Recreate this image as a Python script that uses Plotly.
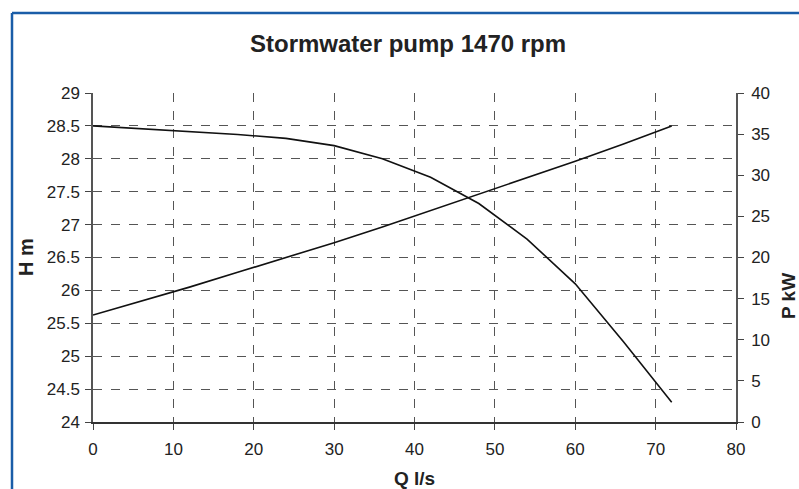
import plotly.graph_objects as go

# Data
q = [0, 6, 12, 18, 24, 30, 36, 42, 48, 54, 60, 66, 72]
head_m = [28.5, 28.46, 28.41, 28.37, 28.31, 28.2, 28.0, 27.72, 27.32, 26.78, 26.1, 25.22, 24.3]
power_kw = [13.0, 14.7, 16.4, 18.2, 20.0, 21.8, 23.7, 25.7, 27.7, 29.7, 31.7, 33.8, 36.0]

title = "Stormwater pump 1470 rpm"
x_title = "Q l/s"
y_title = "H m"
y2_title = "P kW"

W, H = 799, 489
ML, MR, MT, MB = 93, 63, 93, 67
PW, PH = W - ML - MR, H - MT - MB

def px_x(px):
    return (px - ML) / PW

def px_y(py):
    return (H - MB - py) / PH

FONT = "Liberation Sans, Arial, sans-serif"
TXT = "#222222"

fig = go.Figure()
fig.add_trace(go.Scatter(x=q, y=head_m, mode="lines", line=dict(color="#111111", width=1.6),
                         showlegend=False, hoverinfo="skip"))
fig.add_trace(go.Scatter(x=q, y=power_kw, mode="lines", line=dict(color="#111111", width=1.6),
                         yaxis="y2", showlegend=False, hoverinfo="skip"))

grid = dict(showgrid=True, gridcolor="#555555", griddash="dash", gridwidth=1)

fig.update_layout(
    width=W, height=H,
    margin=dict(l=ML, r=MR, t=MT, b=MB, pad=0),
    paper_bgcolor="white", plot_bgcolor="white",
    font=dict(family=FONT, size=17, color=TXT),
    xaxis=dict(range=[0, 80], tickmode="linear", tick0=0, dtick=10, **grid,
               showline=True, linecolor="#333333", linewidth=1.5,
               ticks="outside", ticklen=6, tickcolor="#444444",
               ticklabelstandoff=5, zeroline=False),
    yaxis=dict(range=[24, 29], tickmode="linear", tick0=24, dtick=0.5, **grid,
               showline=True, linecolor="#555555", linewidth=1.5,
               ticks="outside", ticklen=6, tickcolor="#444444",
               ticklabelstandoff=2, zeroline=False),
    yaxis2=dict(range=[0, 40], tickmode="linear", tick0=0, dtick=5, overlaying="y",
                side="right", showgrid=False, showline=True, linecolor="#555555",
                linewidth=1.5, ticks="outside", ticklen=6, tickcolor="#444444",
                ticklabelstandoff=4, zeroline=False),
)

annotations = [
    dict(text="<b>" + title + "</b>", x=px_x(407.5), y=px_y(44), xref="paper", yref="paper",
         showarrow=False, font=dict(size=24, color=TXT, family=FONT), xanchor="center", yanchor="middle"),
    dict(text="<b>" + x_title + "</b>", x=px_x(414.5), y=px_y(479), xref="paper", yref="paper",
         showarrow=False, font=dict(size=19, color=TXT, family=FONT), xanchor="center", yanchor="middle"),
    dict(text="<b>" + y_title + "</b>", x=px_x(26), y=px_y(257), xref="paper", yref="paper",
         showarrow=False, textangle=-90, font=dict(size=20, color=TXT, family=FONT),
         xanchor="center", yanchor="middle"),
    dict(text="<b>" + y2_title + "</b>", x=px_x(788), y=px_y(296), xref="paper", yref="paper",
         showarrow=False, textangle=-90, font=dict(size=19, color=TXT, family=FONT),
         xanchor="center", yanchor="middle"),
]
fig.update_layout(annotations=annotations)

# Blue frame (top and left edges)
frame = "#1a5da8"
fig.add_shape(type="line", xref="paper", yref="paper", x0=px_x(12), x1=px_x(812),
              y0=px_y(13), y1=px_y(13), line=dict(color=frame, width=2.5))
fig.add_shape(type="line", xref="paper", yref="paper", x0=px_x(12), x1=px_x(12),
              y0=px_y(13), y1=px_y(500), line=dict(color=frame, width=2.5))

fig.write_html("out.html")
